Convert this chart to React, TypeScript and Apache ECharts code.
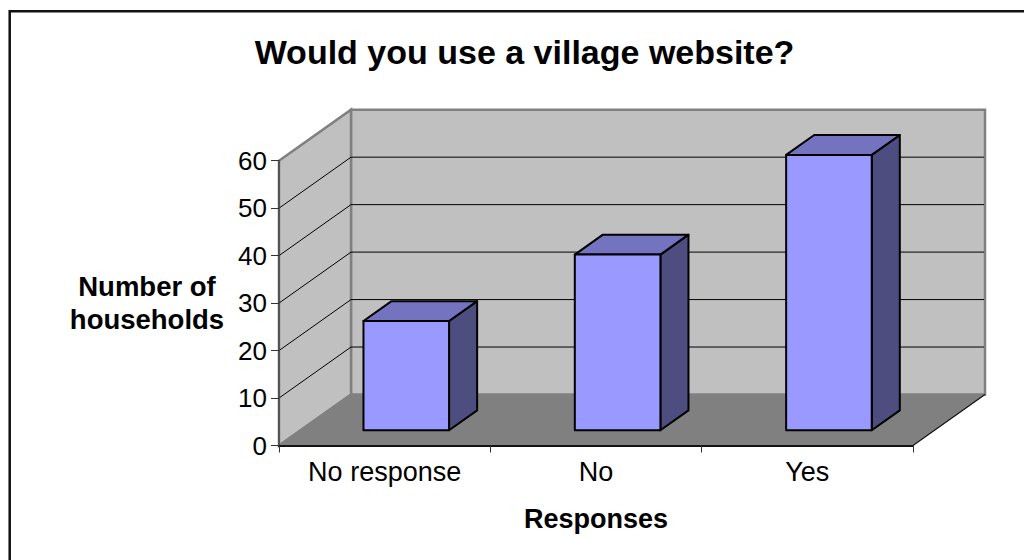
import React, { useEffect, useRef } from "react";
import * as echarts from "echarts";

const categories = ["No response", "No", "Yes"];
const households = [23, 37, 58];
const wallTicks = [10, 20, 30, 40, 50];
const yMax = 60;
const yStep = 10;

const FONT = '"Liberation Sans", Arial, sans-serif';
const DEPTH_X = 72;
const DEPTH_Y = -51;
const BAR_WIDTH_SHARE = 0.405;
const BAR_OFFSET_SHARE = 0.3;
const BAR_DEPTH_SHARE = 0.39;

function renderRoom(params: any, api: any) {
  const cs = params.coordSys;
  const left = cs.x;
  const right = cs.x + cs.width;
  const y0 = api.coord([0, 0])[1];
  const yTop = api.coord([0, yMax])[1];
  const p = (x: number, y: number): number[] => [x, y];
  const wallStroke = { stroke: "#808080", lineWidth: 2.5 };
  const children: any[] = [
    {
      type: "polygon",
      shape: { points: [p(left + DEPTH_X, yTop + DEPTH_Y), p(right + DEPTH_X, yTop + DEPTH_Y), p(right + DEPTH_X, y0 + DEPTH_Y), p(left + DEPTH_X, y0 + DEPTH_Y)] },
      style: { fill: "#c0c0c0", ...wallStroke },
    },
    {
      type: "polygon",
      shape: { points: [p(left, yTop), p(left + DEPTH_X, yTop + DEPTH_Y), p(left + DEPTH_X, y0 + DEPTH_Y), p(left, y0)] },
      style: { fill: "#c0c0c0", ...wallStroke },
    },
    {
      type: "polygon",
      shape: { points: [p(left, y0), p(left + DEPTH_X, y0 + DEPTH_Y), p(right + DEPTH_X, y0 + DEPTH_Y), p(right, y0)] },
      style: { fill: "#808080" },
    },
    {
      type: "line",
      shape: { x1: right, y1: y0, x2: right + DEPTH_X, y2: y0 + DEPTH_Y },
      style: { stroke: "#111", lineWidth: 1.2 },
    },
    {
      type: "line",
      shape: { x1: left, y1: y0, x2: left + DEPTH_X, y2: y0 + DEPTH_Y },
      style: { stroke: "#808080", lineWidth: 2 },
    },
  ];
  wallTicks.forEach((t) => {
    const y = api.coord([0, t])[1];
    children.push(
      { type: "line", shape: { x1: left, y1: y, x2: left + DEPTH_X, y2: y + DEPTH_Y }, style: { stroke: "#000", lineWidth: 1 } },
      { type: "line", shape: { x1: left + DEPTH_X, y1: y + DEPTH_Y, x2: right + DEPTH_X - 1, y2: y + DEPTH_Y }, style: { stroke: "#000", lineWidth: 1 } },
    );
  });
  return { type: "group", children };
}

function renderBar(params: any, api: any) {
  const band = api.size([1, 0])[0];
  const centre = api.coord([api.value(0), 0]);
  const top = api.coord([api.value(0), api.value(1)]);
  const off = BAR_OFFSET_SHARE;
  const x0 = centre[0] - (band * BAR_WIDTH_SHARE) / 2 + DEPTH_X * off;
  const x1 = x0 + band * BAR_WIDTH_SHARE;
  const yBottom = centre[1] + DEPTH_Y * off;
  const yTop = top[1] + DEPTH_Y * off;
  const dx = DEPTH_X * BAR_DEPTH_SHARE;
  const dy = DEPTH_Y * BAR_DEPTH_SHARE;
  const edge = { stroke: "#000", lineWidth: 2, lineJoin: "round" };
  return {
    type: "group",
    children: [
      {
        type: "polygon",
        shape: { points: [[x1, yTop], [x1 + dx, yTop + dy], [x1 + dx, yBottom + dy], [x1, yBottom]] },
        style: { fill: "#4d4d80", ...edge },
      },
      {
        type: "polygon",
        shape: { points: [[x0, yTop], [x0 + dx, yTop + dy], [x1 + dx, yTop + dy], [x1, yTop]] },
        style: { fill: "#7373bf", ...edge },
      },
      {
        type: "rect",
        shape: { x: x0, y: yTop, width: x1 - x0, height: yBottom - yTop },
        style: { fill: "#9999ff", ...edge },
      },
    ],
  };
}

export default function App() {
  const ref = useRef<HTMLDivElement>(null);

  useEffect(() => {
    if (!ref.current) return;
    const chart = echarts.init(ref.current, undefined, { renderer: "svg" });
    chart.setOption({
      animation: false,
      backgroundColor: "#ffffff",
      title: {
        text: "Would you use a village website?",
        left: 519.5,
        top: 30,
        textAlign: "center",
        textStyle: { fontFamily: FONT, fontWeight: "bold", fontSize: 34, color: "#000" },
      },
      grid: { left: 279, top: 160.7, width: 634, height: 284.8 },
      xAxis: {
        type: "category",
        data: categories,
        z: 5,
        name: "Responses",
        nameLocation: "middle",
        nameGap: 60,
        nameTextStyle: { fontFamily: FONT, fontWeight: "bold", fontSize: 27, color: "#000" },
        axisLine: { lineStyle: { color: "#111", width: 2 } },
        axisTick: { show: true, alignWithLabel: false, length: 7, lineStyle: { color: "#333", width: 1 } },
        axisLabel: { fontFamily: FONT, fontSize: 27, color: "#000", margin: 13 },
      },
      yAxis: {
        type: "value",
        min: 0,
        max: yMax,
        interval: yStep,
        z: 5,
        name: "Number of\nhouseholds",
        nameLocation: "middle",
        nameRotate: 0,
        nameGap: 132,
        nameTextStyle: { fontFamily: FONT, fontWeight: "bold", fontSize: 27.5, color: "#000", align: "center", lineHeight: 33, padding: [0, 0, 3, 0] },
        axisLine: { show: true, lineStyle: { color: "#444", width: 1.5 } },
        axisTick: { show: true, length: 8, lineStyle: { color: "#333", width: 1 } },
        axisLabel: { fontFamily: FONT, fontSize: 26, color: "#000", margin: 12 },
        splitLine: { show: false },
      },
      graphic: [
        {
          type: "rect",
          silent: true,
          z: -1,
          shape: { x: 9.7, y: 11.3, width: 1020, height: 560 },
          style: { fill: "none", stroke: "#111", lineWidth: 2.5 },
        },
      ],
      series: [
        { type: "custom", z: 1, renderItem: renderRoom, data: [[0, 0]], silent: true },
        {
          type: "custom",
          z: 3,
          renderItem: renderBar,
          data: households.map((v, i) => [i, v]),
          encode: { x: 0, y: 1 },
        },
      ],
    });
    return () => chart.dispose();
  }, []);

  return <div ref={ref} style={{ position: "fixed", left: 0, top: 0, width: 1024, height: 560 }} />;
}
